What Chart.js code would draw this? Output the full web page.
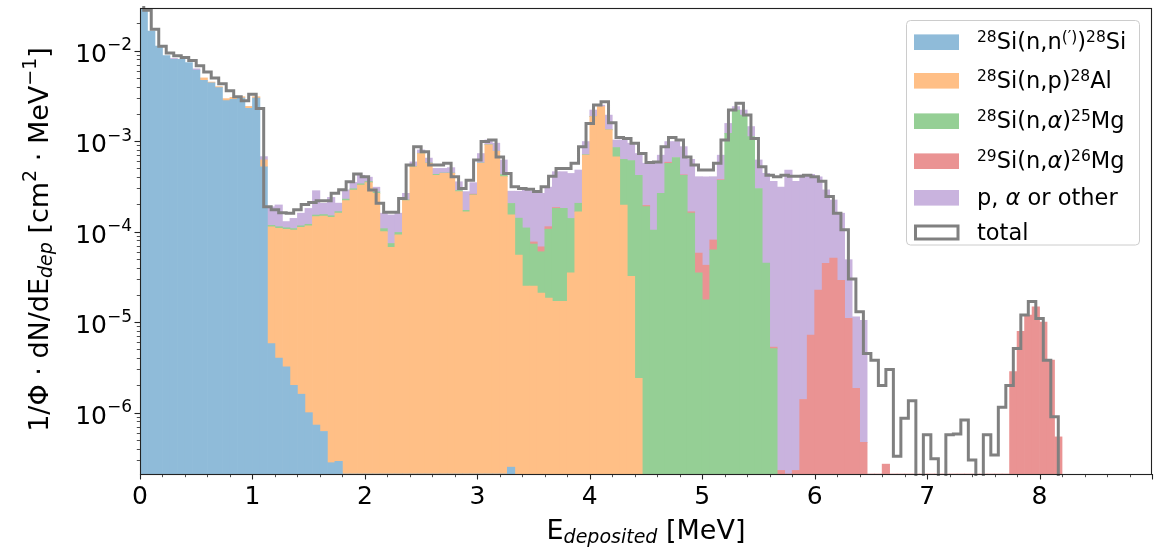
<!DOCTYPE html>
<html>
<head>
<meta charset="utf-8">
<title>Deposited energy spectrum</title>
<script src="https://cdn.jsdelivr.net/npm/chart.js@4.4.1/dist/chart.umd.min.js"></script>
<style>
  html, body { margin: 0; padding: 0; background: #fff; }
  #spectrum { display: block; }
</style>
</head>
<body>
<canvas id="spectrum" width="1159" height="547"></canvas>
<script>
// 1. Binning: 1/15 MeV wide bins starting at 0 MeV
const binWidth = 1 / 15;

// 2. Per-channel counts, one entry per bin (arrays stop where the channel ends)
const si28nn = [
  0.045, 0.0165, 0.0112, 0.0088, 0.0080, 0.0080, 0.0074, 0.0061, 0.0047, 0.0044,
  0.0039, 0.0028, 0.0029, 0.0030, 0.0023, 0.0030, 5.2e-4, 5.8e-6, 4.0e-6, 3.2e-6,
  2.0e-6, 1.6e-6, 1.0e-6, 7.3e-7, 6.2e-7, 2.8e-7, 2.9e-7, 0, 0, 0,
  0, 0, 0, 0, 0, 0, 0, 0, 0, 0,
  0, 0, 0, 0, 0, 0, 0, 0, 0, 2.5e-7
];

const si28np = [
  0, 0, 0, 0, 0, 0, 0, 0, 3.0e-4, 1.0e-4,
  1.0e-4, 1.5e-4, 1.5e-4, 1.0e-4, 1.2e-4, 1.0e-4, 1.0e-4, 1.07e-4, 1.05e-4, 1.03e-4,
  1.02e-4, 1.1e-4, 1.15e-4, 1.46e-4, 1.48e-4, 1.44e-4, 1.6e-4, 2.2e-4, 2.88e-4, 3.28e-4,
  3.48e-4, 2.65e-4, 1.0e-4, 6.7e-5, 9.2e-5, 2.2e-4, 5.2e-4, 7.3e-4, 5.7e-4, 4.2e-4,
  4.4e-4, 4.4e-4, 2.77e-4, 1.66e-4, 2.54e-4, 5.7e-4, 9.1e-4, 7.7e-4, 4.05e-4, 1.53e-4,
  5.5e-5, 2.5e-5, 2.5e-5, 2.1e-5, 1.85e-5, 1.7e-5, 1.7e-5, 3.5e-5, 1.66e-4, 7.0e-4,
  1.87e-3, 2.41e-3, 1.33e-3, 6.7e-4, 1.97e-4, 3.2e-5, 2.4e-6
];

const si28na = [
  0, 0, 0, 0, 0, 0, 0, 0, 0, 0,
  0, 0, 0, 0, 0, 0, 0, 4.5e-6, 4.4e-6, 4.2e-6,
  4.2e-6, 4.5e-6, 4.6e-6, 5.9e-6, 6.0e-6, 5.8e-6, 6.4e-6, 9.0e-6, 1.0e-5, 1.0e-5,
  1.0e-5, 1.0e-5, 8.0e-6, 7.0e-6, 6.0e-6, 5.0e-6, 5.0e-6, 5.0e-6, 5.0e-6, 1.0e-5,
  5.0e-6, 5.0e-6, 8.0e-6, 6.0e-6, 2.0e-6, 5.0e-6, 5.0e-6, 5.0e-6, 2.5e-5, 5.2e-5,
  8.6e-5, 8.5e-5, 4.8e-5, 3.9e-5, 8.8e-5, 1.64e-4, 1.64e-4, 1.05e-4, 4.0e-5, 1.0e-5,
  1.0e-5, 0, 1.0e-5, 1.8e-4, 4.33e-4, 5.78e-4, 4.18e-4, 1.89e-4, 1.04e-4, 2.65e-4,
  5.7e-4, 6.6e-4, 4.2e-4, 1.6e-4, 3.5e-5, 1.76e-5, 6.3e-5, 3.7e-4, 1.22e-3, 2.21e-3,
  1.94e-3, 1.12e-3, 3.0e-4, 4.5e-5, 5.1e-6
];

const si29na = [
  0, 0, 0, 0, 0, 0, 0, 0, 0, 0,
  0, 0, 0, 0, 0, 0, 0, 0, 0, 0,
  0, 0, 0, 0, 0, 0, 0, 0, 0, 0,
  0, 0, 0, 0, 0, 0, 0, 0, 0, 0,
  0, 0, 0, 0, 4.0e-6, 0, 0, 0, 0, 0,
  0, 0, 4.0e-6, 8.0e-6, 7.0e-6, 4.0e-6, 0, 0, 0, 0,
  0, 0, 0, 0, 0, 0, 0, 6.0e-6, 0, 0,
  1.5e-5, 0, 5.0e-6, 6.0e-6, 2.3e-5, 2.5e-5, 1.8e-5, 5.0e-6, 0, 0,
  0, 0, 0, 0, 2.0e-7, 2.3e-7, 0, 2.3e-7, 1.4e-6, 7.2e-6,
  2.26e-5, 4.47e-5, 5.1e-5, 2.9e-5, 1.1e-5, 1.86e-6, 4.7e-7, 0, 0, 2.7e-7,
  0, 0, 0, 0, 0, 0, 0, 0, 0, 0,
  0, 0, 0, 0, 0, 0, 2.84e-6, 7.9e-6, 1.2e-5, 1.48e-5,
  1.0e-5, 3.8e-6, 5.4e-7
];

const other = [
  0, 0, 0, 0, 2.0e-4, 0, 0, 2.0e-4, 0, 0,
  0, 0, 0, 0, 0, 0, 5.5e-5, 7.1e-5, 8.4e-5, 1.9e-5,
  3.2e-5, 4.4e-5, 6.0e-5, 1.31e-4, 5.1e-5, 8.9e-5, 4.0e-5, 6.1e-5, 5.2e-5, 8.2e-5,
  4.2e-5, 3.5e-5, 5.2e-5, 7.9e-5, 6.2e-5, 4.0e-5, 6.5e-5, 6.5e-5, 7.5e-5, 7.0e-5,
  5.5e-5, 6.5e-5, 7.1e-5, 1.05e-4, 8.8e-5, 1.55e-4, 1.15e-4, 1.75e-4, 1.9e-4, 7.5e-5,
  1.39e-4, 1.8e-4, 2.03e-4, 1.97e-4, 1.97e-4, 2.75e-4, 2.79e-4, 3.0e-4, 2.74e-4, 2.8e-4,
  3.3e-4, 9.0e-5, 6.0e-4, 1.8e-4, 4.0e-4, 3.4e-4, 3.1e-4, 3.75e-4, 4.66e-4, 4.35e-4,
  4.05e-4, 3.3e-4, 4.45e-4, 4.64e-4, 3.47e-4, 3.62e-4, 3.24e-4, 3.25e-4, 3.5e-4, 2.0e-4,
  2.7e-4, 3.3e-4, 3.2e-4, 3.95e-4, 3.55e-4, 3.1e-4, 4.8e-4, 3.6e-4, 4.2e-4, 4.23e-4,
  3.82e-4, 2.45e-4, 1.73e-4, 1.31e-4, 3.8e-5, 9.6e-6, 1.0e-5
];

const total = [
  0.04, 0.028, 0.0172, 0.0112, 0.0094, 0.0088, 0.0084, 0.0078, 0.0068, 0.0058,
  0.0050, 0.0043, 0.0036, 0.0031, 0.0028, 0.0033, 0.0023, 1.89e-4, 1.75e-4, 1.62e-4,
  1.6e-4, 1.75e-4, 2.0e-4, 2.1e-4, 2.2e-4, 2.2e-4, 2.65e-4, 2.9e-4, 3.57e-4, 4.34e-4,
  4.05e-4, 2.88e-4, 2.06e-4, 1.64e-4, 1.64e-4, 2.33e-4, 5.46e-4, 8.7e-4, 7.66e-4, 5.46e-4,
  5.46e-4, 5.7e-4, 4.05e-4, 3.0e-4, 3.7e-4, 6.2e-4, 9.9e-4, 1.03e-3, 6.7e-4, 4.4e-4,
  3.14e-4, 3.0e-4, 2.94e-4, 2.77e-4, 3.14e-4, 4.1e-4, 5.0e-4, 5.0e-4, 5.7e-4, 8.7e-4,
  1.57e-3, 2.51e-3, 2.73e-3, 1.6e-3, 1.1e-3, 1.07e-3, 9.5e-4, 7.3e-4, 5.8e-4, 5.9e-4,
  8.7e-4, 1.1e-3, 1.03e-3, 6.7e-4, 5.46e-4, 4.8e-4, 4.8e-4, 5.7e-4, 1.03e-3, 2.21e-3,
  2.62e-3, 1.94e-3, 1.07e-3, 5.2e-4, 4.2e-4, 4.05e-4, 4.2e-4, 4.1e-4, 4.1e-4, 4.2e-4,
  4.05e-4, 3.6e-4, 2.45e-4, 1.6e-4, 1.05e-4, 3.0e-5, 1.3e-5, 4.5e-6, 3.8e-6, 2.0e-6,
  3.0e-6, 3.3e-7, 8.7e-7, 1.35e-6, 0, 5.7e-7, 3.1e-7, 0, 5.7e-7, 5.8e-7,
  8.3e-7, 3.0e-7, 0, 5.7e-7, 3.4e-7, 1.15e-6, 2.0e-6, 5.1e-6, 1.2e-5, 1.69e-5,
  1.1e-5, 3.8e-6, 9.0e-7, 0
];

// 3. Axis limits and labelled ticks
const xRange = [0, 9];
const yRange = [2.1e-7, 0.0296];
const xTickLabels = [0, 1, 2, 3, 4, 5, 6, 7, 8];
const yTickExponents = [-6, -5, -4, -3, -2];

// 4. Channel styling + legend text (pieces: [text, 'sup' | 'sub' | 'it' | 'subit'])
const FONT = '"DejaVu Sans", sans-serif';
const channels = [
  { name: 'Si28(n,n\')', data: si28nn, color: '#8fbbd9',
    legend: [['28', 'sup'], ['Si(n,n'], ['(\u2032)', 'sup'], [')'], ['28', 'sup'], ['Si']] },
  { name: 'Si28(n,p)', data: si28np, color: '#ffbf86',
    legend: [['28', 'sup'], ['Si(n,p)'], ['28', 'sup'], ['Al']] },
  { name: 'Si28(n,a)', data: si28na, color: '#95cf95',
    legend: [['28', 'sup'], ['Si(n,'], ['\u03b1', 'it'], [')'], ['25', 'sup'], ['Mg']] },
  { name: 'Si29(n,a)', data: si29na, color: '#ea9393',
    legend: [['29', 'sup'], ['Si(n,'], ['\u03b1', 'it'], [')'], ['26', 'sup'], ['Mg']] },
  { name: 'other', data: other, color: '#c9b3de',
    legend: [['p, '], ['\u03b1', 'it'], [' or other']] }
];
const totalStyle = { color: '#808080', legend: [['total']] };

// draws a run of text pieces with super/subscripts, baseline at y
function drawRich(ctx, parts, x, y, align, size, small, supUp, subDown) {
  let width = 0;
  const runs = parts.map(([text, kind = '']) => {
    const script = kind.startsWith('sup') || kind.startsWith('sub');
    const font = (kind.endsWith('it') ? 'italic ' : '') + (script ? small : size) + 'px ' + FONT;
    const dy = kind.startsWith('sup') ? -supUp : kind.startsWith('sub') ? subDown : 0;
    ctx.font = font;
    const w = ctx.measureText(text).width;
    width += w;
    return { text, font, dy, w };
  });
  let cx = align === 'center' ? x - width / 2 : align === 'right' ? x - width : x;
  ctx.textAlign = 'left';
  ctx.textBaseline = 'alphabetic';
  for (const r of runs) {
    ctx.font = r.font;
    ctx.fillText(r.text, cx, y + r.dy);
    cx += r.w;
  }
}

function roundedRect(ctx, x, y, w, h, r) {
  ctx.beginPath();
  ctx.moveTo(x + r, y);
  ctx.arcTo(x + w, y, x + w, y + h, r);
  ctx.arcTo(x + w, y + h, x, y + h, r);
  ctx.arcTo(x, y + h, x, y, r);
  ctx.arcTo(x, y, x + w, y, r);
  ctx.closePath();
}

// 5. Frame, ticks, tick labels, axis titles and legend
const axesDecor = {
  id: 'axesDecor',
  afterDraw(chart) {
    const { ctx, chartArea: a, scales: { x, y } } = chart;
    ctx.save();
    ctx.fillStyle = '#000';
    ctx.strokeStyle = '#222';

    // spines
    ctx.lineWidth = 1.1;
    ctx.strokeRect(a.left + 0.5, a.top + 0.5, a.right - a.left - 1, a.bottom - a.top);

    // x ticks: major every 1 MeV, minor every 0.2 MeV
    for (let k = 0; k <= 45; k++) {
      const px = Math.round(x.getPixelForValue(k / 5)) + 0.5;
      const major = k % 5 === 0;
      ctx.lineWidth = major ? 1.1 : 0.8;
      ctx.beginPath();
      ctx.moveTo(px, a.bottom);
      ctx.lineTo(px, a.bottom + (major ? 5.5 : 3.2));
      ctx.stroke();
    }
    // y ticks: decades and 2..9 in between
    for (let e = -7; e <= -1; e++) {
      for (let m = 1; m <= 9; m++) {
        const v = m * Math.pow(10, e);
        if (v < yRange[0] || v > yRange[1]) continue;
        const py = Math.round(y.getPixelForValue(v)) + 0.5;
        ctx.lineWidth = m === 1 ? 1.1 : 0.8;
        ctx.beginPath();
        ctx.moveTo(a.left, py);
        ctx.lineTo(a.left - (m === 1 ? 5.5 : 3.2), py);
        ctx.stroke();
      }
    }

    // tick labels
    xTickLabels.forEach(v => {
      drawRich(ctx, [[String(v)]], x.getPixelForValue(v), a.bottom + 30, 'center', 25, 17, 0, 0);
    });
    yTickExponents.forEach(e => {
      const py = y.getPixelForValue(Math.pow(10, e));
      drawRich(ctx, [['10'], ['\u2212' + (-e), 'sup']], a.left - 8, py + 11, 'right', 25, 17, 11.5, 0);
    });

    // axis titles
    drawRich(ctx, [['E'], ['deposited', 'subit'], [' [MeV]']],
      (a.left + a.right) / 2, 539, 'center', 27, 19, 0, 4);
    ctx.save();
    ctx.translate(48, 239.5);
    ctx.rotate(-Math.PI / 2);
    drawRich(ctx, [['1/\u03a6 \u00b7 dN/dE'], ['dep', 'subit'], [' [cm'], ['2', 'sup'],
      [' \u00b7 MeV'], ['\u22121', 'sup'], [']']], 0, 0, 'center', 27, 19, 12, 4);
    ctx.restore();

    // legend
    roundedRect(ctx, 906.5, 20.5, 233, 224.5, 4);
    ctx.fillStyle = 'rgba(255,255,255,0.8)';
    ctx.fill();
    ctx.strokeStyle = '#cccccc';
    ctx.lineWidth = 1;
    ctx.stroke();
    const rows = [42.2, 80.8, 121.2, 161.2, 197.8, 232.5];
    channels.forEach((c, i) => {
      ctx.fillStyle = c.color;
      ctx.fillRect(914, rows[i] - 7.8, 45, 15.6);
      ctx.fillStyle = '#000';
      drawRich(ctx, c.legend, 977, rows[i] + 7, 'left', 22.5, 15.5, 7, 0);
    });
    ctx.strokeStyle = totalStyle.color;
    ctx.lineWidth = 3;
    ctx.strokeRect(915.5, rows[5] - 6.5, 42.5, 13);
    ctx.fillStyle = '#000';
    drawRich(ctx, totalStyle.legend, 977, rows[5] + 7, 'left', 22.5, 15.5, 7, 0);

    ctx.restore();
  }
};

// 6. Chart: stacked bars per channel + stepped total outline
const datasets = channels.map(c => ({
  type: 'bar',
  label: c.name,
  data: c.data.map((v, i) => ({ x: (i + 0.5) * binWidth, y: v })),
  backgroundColor: c.color,
  borderWidth: 0,
  barPercentage: 1,
  categoryPercentage: 1,
  stack: 'channels',
  clip: 0,
  order: 1
}));
datasets.push({
  type: 'line',
  label: 'total',
  // empty bins drop below the axis, like a log plot of zero
  data: total.map((v, i) => ({ x: i * binWidth, y: v > 0 ? v : 1e-12 })),
  borderColor: totalStyle.color,
  borderWidth: 3,
  borderJoinStyle: 'miter',
  pointRadius: 0,
  stepped: 'middle',
  fill: false,
  stack: 'total',
  clip: 2,
  order: 0
});

new Chart(document.getElementById('spectrum'), {
  type: 'bar',
  data: { datasets },
  options: {
    responsive: false,
    animation: false,
    devicePixelRatio: 1,
    layout: { padding: { left: 0, right: 7, top: 8, bottom: 0 } },
    plugins: { legend: { display: false }, tooltip: { enabled: false } },
    scales: {
      x: {
        type: 'linear', min: xRange[0], max: xRange[1], offset: false, stacked: true,
        grid: { display: false }, border: { display: false }, ticks: { display: false },
        afterFit: s => { s.height = 73; }
      },
      y: {
        type: 'logarithmic', min: yRange[0], max: yRange[1], stacked: true,
        grid: { display: false }, border: { display: false }, ticks: { display: false },
        afterFit: s => { s.width = 140; }
      }
    }
  },
  plugins: [axesDecor]
});
</script>
</body>
</html>
